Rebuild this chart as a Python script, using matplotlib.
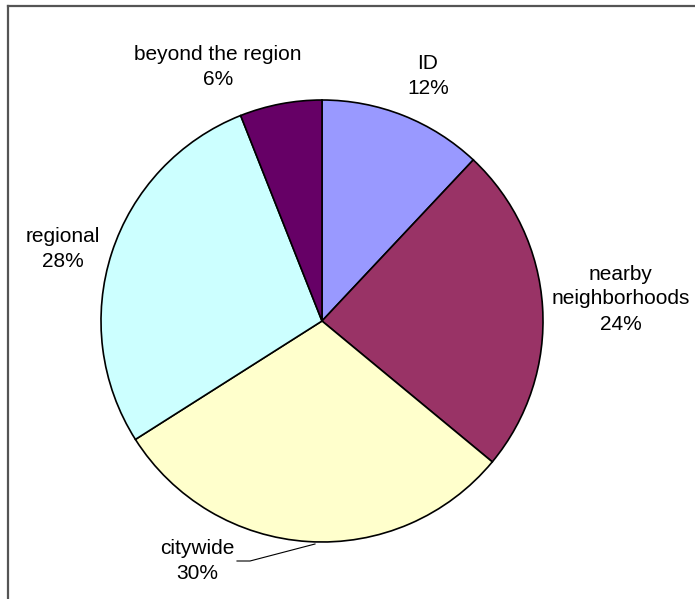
import matplotlib
matplotlib.use("Agg")
import matplotlib.pyplot as plt
from matplotlib.lines import Line2D

plt.rcParams['font.family'] = ['Liberation Sans', 'DejaVu Sans']

# chart data
categories = ['ID', 'nearby\nneighborhoods', 'citywide', 'regional', 'beyond the region']
shares = [12, 24, 30, 28, 6]
colors = ['#9999FF', '#993366', '#FFFFCC', '#CCFFFF', '#660066']

# label anchor points in pixels (x, y from top)
label_pos = [(428, 76), (621, 299), (197, 561), (63, 249), (218, 67)]

W, H = 695, 599
fig = plt.figure(figsize=(W / 100, H / 100), dpi=100)
ax = fig.add_axes([0, 0, 1, 1])

cx, cy, r = 322, H - 321, 221
ax.pie(shares, colors=colors, startangle=90, counterclock=False,
       center=(cx, cy), radius=r, frame=True,
       wedgeprops=dict(edgecolor='black', linewidth=1.2))
ax.set_xlim(0, W)
ax.set_ylim(0, H)
ax.set_aspect('equal')
ax.axis('off')

for name, val, (x, y) in zip(categories, shares, label_pos):
    ax.text(x, H - y, f"{name}\n{val}%", ha='center', va='center',
            fontsize=15, linespacing=1.4, color='black')

# leader line for citywide
ax.plot([315, 250, 237], [H - 544, H - 561, H - 561], color='black', lw=0.8)

# chart area frame (only top and left visible)
fig.add_artist(Line2D([8 / W, 1], [1 - 6 / H, 1 - 6 / H], color='#555555', lw=1.6,
                      transform=fig.transFigure))
fig.add_artist(Line2D([8 / W, 8 / W], [1 - 6 / H, 0], color='#555555', lw=1.6,
                      transform=fig.transFigure))

fig.savefig('out.png', dpi=100)
